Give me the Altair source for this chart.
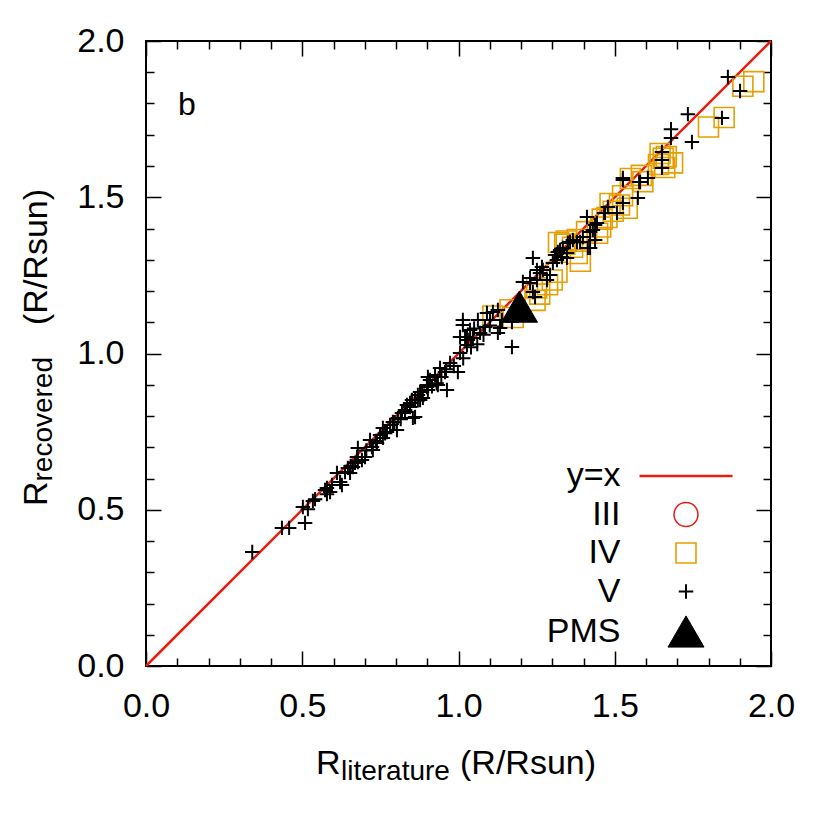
import altair as alt
import pandas as pd

# ---------------- data ----------------
LINE_X = [0.0, 2.0]
LINE_Y = [0.0, 2.0]

IV_X = [1.11, 1.165, 1.175, 1.245, 1.25, 1.26, 1.285, 1.30, 1.315, 1.32, 1.345, 1.34, 1.365,
        1.38, 1.39, 1.38, 1.41, 1.445, 1.455, 1.475, 1.46, 1.495, 1.485, 1.515, 1.54, 1.525,
        1.55, 1.585, 1.59, 1.64, 1.645, 1.655, 1.665, 1.66, 1.685, 1.80, 1.85, 1.91, 1.945]
IV_Y = [1.12, 1.14, 1.115, 1.17, 1.21, 1.19, 1.22, 1.235, 1.26, 1.355, 1.36, 1.35, 1.34,
        1.32, 1.295, 1.365, 1.39, 1.385, 1.405, 1.435, 1.43, 1.455, 1.48, 1.475, 1.465, 1.505,
        1.56, 1.57, 1.55, 1.605, 1.64, 1.625, 1.63, 1.595, 1.61, 1.725, 1.755, 1.855, 1.87]

V_X = [0.34, 0.435, 0.458, 0.502, 0.509, 0.518, 0.534, 0.541, 0.573, 0.579, 0.589, 0.579, 0.595,
       0.611, 0.621, 0.627, 0.637, 0.646, 0.653, 0.662, 0.669, 0.675, 0.678, 0.678, 0.691, 0.701,
       0.717, 0.723, 0.726, 0.739, 0.749, 0.758, 0.758, 0.771, 0.781, 0.790, 0.803, 0.806, 0.819,
       0.829, 0.829, 0.835, 0.845, 0.845, 0.854, 0.861, 0.861, 0.851, 0.870, 0.877, 0.877, 0.883,
       0.886, 0.899, 0.899, 0.902, 0.902, 0.909, 0.925, 0.934, 0.941, 0.963, 0.957, 0.973, 0.998,
       1.005, 1.014, 1.021, 1.027, 1.030, 1.014, 1.005, 1.027, 1.037, 1.046, 1.062, 1.069, 1.085,
       1.091, 1.101, 1.110, 1.126, 1.133, 1.126, 1.139, 1.171, 1.171, 1.04, 1.06, 1.08, 1.10, 1.05,
       1.206, 1.229, 1.238, 1.245, 1.251, 1.261, 1.267, 1.251, 1.283, 1.302, 1.309, 1.318, 1.331,
       1.334, 1.347, 1.350, 1.229, 1.238, 1.270, 1.293, 1.347, 1.315, 1.325,
       1.357, 1.379, 1.366, 1.389, 1.414, 1.398, 1.421, 1.437, 1.421, 1.411, 1.437, 1.443, 1.430,
       1.466, 1.469, 1.478, 1.507, 1.526, 1.526, 1.526, 1.574, 1.578, 1.581, 1.606, 1.651, 1.651,
       1.651, 1.680, 1.680, 1.747, 1.734, 1.843, 1.862, 1.901,
       0.655, 0.705, 0.735, 0.765, 0.795, 0.815, 0.87, 0.915, 0.945, 0.985, 1.015, 0.93, 0.96]
V_Y = [0.365, 0.442, 0.442, 0.509, 0.458, 0.502, 0.528, 0.534, 0.563, 0.550, 0.557, 0.570, 0.579,
       0.618, 0.589, 0.579, 0.621, 0.634, 0.618, 0.637, 0.650, 0.669, 0.698, 0.653, 0.659, 0.669,
       0.723, 0.701, 0.691, 0.714, 0.739, 0.730, 0.762, 0.749, 0.771, 0.781, 0.755, 0.794, 0.810,
       0.819, 0.813, 0.835, 0.842, 0.829, 0.794, 0.851, 0.797, 0.851, 0.867, 0.877, 0.851, 0.877,
       0.858, 0.893, 0.899, 0.925, 0.883, 0.915, 0.931, 0.899, 0.954, 0.883, 0.941, 0.970, 0.941,
       1.002, 1.091, 1.053, 1.027, 1.043, 1.107, 1.053, 1.053, 1.075, 1.050, 1.107, 1.066, 1.085,
       1.130, 1.107, 1.133, 1.139, 1.082, 1.066, 1.107, 1.021, 1.101, 1.02, 1.03, 1.06, 1.09, 1.08,
       1.229, 1.226, 1.306, 1.181, 1.235, 1.258, 1.277, 1.267, 1.235, 1.290, 1.315, 1.325, 1.309,
       1.338, 1.322, 1.354, 1.242, 1.197, 1.267, 1.251, 1.306, 1.299, 1.331,
       1.357, 1.357, 1.363, 1.357, 1.338, 1.373, 1.389, 1.363, 1.338, 1.437, 1.411, 1.418, 1.395,
       1.450, 1.450, 1.469, 1.450, 1.482, 1.562, 1.555, 1.498, 1.549, 1.549, 1.562, 1.645, 1.619,
       1.594, 1.718, 1.690, 1.677, 1.766, 1.754, 1.885, 1.840,
       0.640, 0.690, 0.720, 0.745, 0.780, 0.790, 0.850, 0.895, 0.925, 0.960, 0.985, 0.905, 0.950]

PMS_X = [1.195]
PMS_Y = [1.15]

CLASSES = ["y=x", "III", "IV", "V", "PMS"]
CLASS_SHAPES = ["stroke", "circle", "square", "M-1,0L1,0M0,-1L0,1", "triangle-up"]
CLASS_STROKES = ["#e51e10", "#e51e10", "#e69f00", "#000000", "#000000"]
CLASS_FILLS = ["transparent", "transparent", "transparent", "transparent", "#000000"]
CLASS_SIZES = [8649, 576, 400, 210, 1296]
CLASS_WIDTHS = [2.5, 1.5, 1.6, 2.0, 1.0]

MAJOR = [0.0, 0.5, 1.0, 1.5, 2.0]
MINOR = [0.1, 0.2, 0.3, 0.4, 0.6, 0.7, 0.8, 0.9, 1.1, 1.2, 1.3, 1.4, 1.6, 1.7, 1.8, 1.9]

# ---------------- tables ----------------
line_df = pd.DataFrame({"x": LINE_X, "y": LINE_Y})
pts_df = pd.concat([
    pd.DataFrame({"x": IV_X, "y": IV_Y, "cls": "IV"}),
    pd.DataFrame({"x": V_X, "y": V_Y, "cls": "V"}),
    pd.DataFrame({"x": PMS_X, "y": PMS_Y, "cls": "PMS"}),
], ignore_index=True)

P = 625
FONT = "Liberation Sans"
xs = alt.Scale(domain=[0, 2], nice=False, zero=False)
ys = alt.Scale(domain=[0, 2], nice=False, zero=False)
LABEL_EXPR = "format(datum.value, '.1f')"


def ax(orient, values, size, **kw):
    base = dict(orient=orient, offset=-P, values=values, tickSize=size, tickWidth=1.5,
                tickColor="black", domain=False, grid=False, title=None, labels=False)
    base.update(kw)
    return alt.Axis(**base)


lab_common = dict(labels=True, labelFont=FONT, labelFontSize=34, labelColor="black",
                  labelFlush=False, labelOverlap=False, labelExpr=LABEL_EXPR,
                  labelBaseline="middle")

line = alt.Chart(line_df).mark_line(color="#e51e10", strokeWidth=2.5).encode(
    x=alt.X("x:Q", scale=xs, axis=ax("top", MAJOR, 15, labelPadding=-55, labelAlign="center", **lab_common)),
    y=alt.Y("y:Q", scale=ys, axis=ax("right", MAJOR, 15, labelPadding=-37, labelAlign="right", **lab_common)),
)

leg = alt.Legend(orient="none", legendX=492, legendY=387, title=None, labelAlign="right",
                 labelOffset={"expr": "-113.5"}, rowPadding=4.5, labelFontSize=34,
                 labelFont=FONT, labelColor="black", padding=0, symbolOffset=0)

points = alt.Chart(pts_df).mark_point(filled=False, opacity=1).encode(
    x=alt.X("x:Q", scale=xs, axis=ax("bottom", MAJOR, 15)),
    y=alt.Y("y:Q", scale=ys, axis=ax("left", MAJOR, 15)),
    shape=alt.Shape("cls:N", scale=alt.Scale(domain=CLASSES, range=CLASS_SHAPES), legend=leg),
    stroke=alt.Stroke("cls:N", scale=alt.Scale(domain=CLASSES, range=CLASS_STROKES), legend=leg),
    fill=alt.Fill("cls:N", scale=alt.Scale(domain=CLASSES, range=CLASS_FILLS), legend=leg),
    size=alt.Size("cls:N", scale=alt.Scale(type="ordinal", domain=CLASSES, range=CLASS_SIZES), legend=leg),
    strokeWidth=alt.StrokeWidth("cls:N", scale=alt.Scale(type="ordinal", domain=CLASSES, range=CLASS_WIDTHS), legend=leg),
)

minor1 = alt.Chart(line_df).mark_line(strokeOpacity=0).encode(
    x=alt.X("x:Q", scale=xs, axis=ax("top", MINOR, 8)),
    y=alt.Y("y:Q", scale=ys, axis=ax("right", MINOR, 8)),
)
minor2 = alt.Chart(line_df).mark_line(strokeOpacity=0).encode(
    x=alt.X("x:Q", scale=xs, axis=ax("bottom", MINOR, 8)),
    y=alt.Y("y:Q", scale=ys, axis=ax("left", MINOR, 8)),
)

one = pd.DataFrame({"k": [0]})


def txt(s, x, y, size, angle=0):
    kw = dict(text=s, fontSize=size, font=FONT, color="black", align="left", baseline="alphabetic")
    if angle:
        kw["angle"] = angle
    return alt.Chart(one).mark_text(**kw).encode(x=alt.value(x), y=alt.value(y))


texts = [
    txt("b", 32, 74, 32),
    txt("R", 170, P + 108, 34),
    txt("literature", 195, P + 114, 28),
    txt("(R/Rsun)", 314, P + 108, 34),
    txt("R", -99, 465, 34, 270),
    txt("recovered", -94, 440.5, 28, 270),
    txt("(R/Rsun)", -99, 284, 34, 270),
]

chart = alt.layer(line, points, minor1, minor2, *texts).resolve_scale(
    x="shared", y="shared"
).resolve_axis(
    x="independent", y="independent"
).properties(
    width=P, height=P,
    autosize=alt.AutoSizeParams(type="none"),
    padding={"left": 138, "top": 33, "right": 50, "bottom": 150},
).configure_view(stroke="black", strokeWidth=2)

chart.save("out.html", embed_options={"renderer": "svg", "actions": False})
